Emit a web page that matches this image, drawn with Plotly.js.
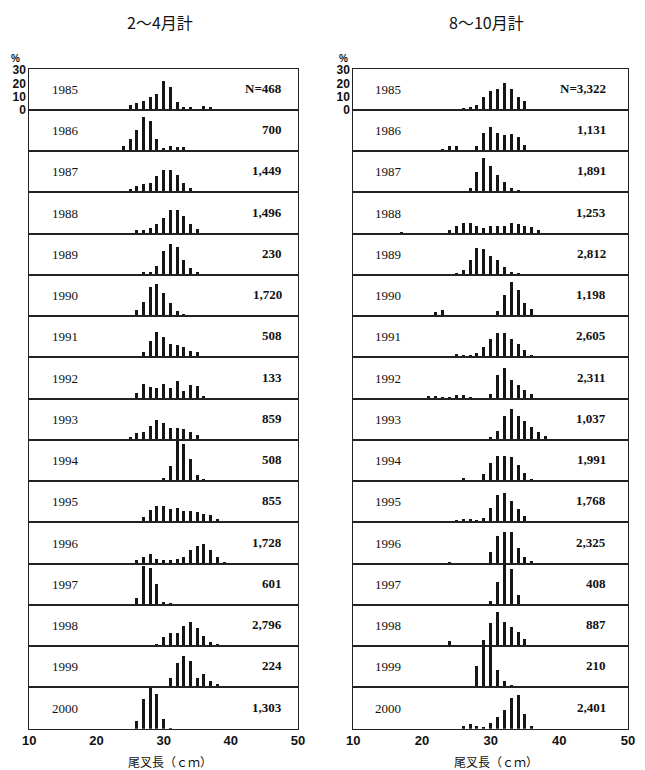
<!DOCTYPE html>
<html><head><meta charset="utf-8">
<script src="https://cdn.plot.ly/plotly-3.0.1.min.js"></script>
<style>html,body{margin:0;padding:0;background:#fff;} #chart{width:645px;height:770px;}</style>
</head><body><div id="chart"></div>
<script>
// fork length classes (cm)
const lengthCm = [17,18,19,20,21,22,23,24,25,26,27,28,29,30,31,32,33,34,35,36,37,38,39,40];
const years = ['1985','1986','1987','1988','1989','1990','1991','1992','1993','1994','1995','1996','1997','1998','1999','2000'];
const springN = ['N=468','700','1,449','1,496','230','1,720','508','133','859','508','855','1,728','601','2,796','224','1,303'];
const autumnN = ['N=3,322','1,131','1,891','1,253','2,812','1,198','2,605','2,311','1,037','1,991','1,768','2,325','408','887','210','2,401'];

// Feb-Apr (%), per length class 17..40 cm
const spring1985 = [0,0,0,0,0,0,0,0,4,5,7,9.5,12,22,17,6,2,2,1,3,2,1,0.5,0];
const spring1986 = [0,0,0,0,0,0,0,4,9.5,16,26,22.5,9.5,2.5,4,3.5,3,0,0,0,0,0,0,0];
const spring1987 = [0,0,0,0,0,0,0,0.5,2.5,5,6,7,12.5,17,17,13,7,3,0.5,0,0,0,0,0];
const spring1988 = [0,0,0,0,0,0,0,0,0,2.5,3,4,7,12,17.5,18,13,7,3.5,0,0,0,0,0];
const spring1989 = [0,0,0,0,0,0,0,0,0,1,2,2,7,18,23,21,11,5,2.5,0,0,0,0,0];
const spring1990 = [0,0,0,0,0,0,0,0,0,4.5,11,22,24,17.5,10,4,2,1,0,0,0,0,0,0];
const spring1991 = [0,0,0,0,0,0,0,0,0,0.5,4,12,19.5,15,10,9.5,8,5,4,1,0,0,0,0];
const spring1992 = [0,0,0,0,0,0,0,0,0,4,11,9,8,11,8,13,6,10,9.5,2,0,0,0,0];
const spring1993 = [0,0,0,0,0,0,0,0,2,5,6,10.5,15,13,9,9,8,6,4,0.5,0,0,0,0];
const spring1994 = [0,0,0,0,0,0,0,0,0,0,0,0,0,2.5,11.5,30,28,17,5,2,0.5,0,0,0];
const spring1995 = [0,0,0,0,0,0,0,0,0,0,4,9.5,12,12.5,10,11,8.7,8.7,8.2,6.2,5.5,2.5,0,0];
const spring1996 = [0,0,0,0,0,0,0,0,0.5,2.5,5,7.5,3.75,3,3,3.75,5,10.5,13,15,10,5,1.25,0];
const spring1997 = [0,0,0,0,0,0,0,0,0,5,29,28,16,2,1.2,1,1,0.8,0.5,0,0,0,0,0];
const spring1998 = [0,0,0,0,0,0,0,0,0,0,0,0,2,7,10,10,15,18,14,8,3,2,0.5,0];
const spring1999 = [0,0,0,0,0,0,0,0,0,0,0,0,0,0.5,7,18.5,24,20,7,10,5,2.5,1,0];
const spring2000 = [0,0,0,0,0,0,0,0,0,6,22,31,26,7.5,0.5,0,0,0,0,0,0,0,0,0];

// Aug-Oct (%), per length class 17..40 cm
const autumn1985 = [0,0,0,0,0,0.3,0.3,0.3,0.5,1.5,2,4,9.5,14,16,20.5,16,10,7,0.5,0,0,0,0];
const autumn1986 = [0,0,0,0,0,0,1.5,4,4,0,0,4,14,18,14,12.5,13,11,5,1,0,0,0,0];
const autumn1987 = [0,0,0,0,0,0,0,0,0,0,3,15,26,20,13,8,3,1.5,0,0,0,0,0,0];
const autumn1988 = [1,0.75,0,0,0.75,0,0,3,5.5,8,8,6,4.5,6,6,5.5,8,7.5,5.5,5,2.5,0,0,0];
const autumn1989 = [0,0,0,0,0,0,0,0,1.75,3.75,11,20,19.5,14,11,6,2.5,1.25,0,0,0,0,0,0];
const autumn1990 = [0,0,0,0,1.25,3.25,5,1.25,0,0,0,0,0,0,3.75,16,25.5,19.5,10,5.5,1.25,0,0,0];
const autumn1991 = [0,0,0,0,0,0,0,1.25,2.5,1.75,2,3.25,8,13.75,18.25,18.75,13.75,10,5.75,1.75,0,0,0,0];
const autumn1992 = [0,0,0,0,1.75,1.75,1.25,1.25,2.5,3,1.5,0,0,3.75,18,23,13.7,10,6.7,3.75,0,0,0,0];
const autumn1993 = [0,0,0,0,0,0,0,0,0,0,0,0,0,2,6.5,18,23,18,14.5,10,5.75,2.75,0,0];
const autumn1994 = [0,0,0,0,0,0,0,0,0.75,2.5,1.25,1.25,5.5,13.75,18.75,18.75,18.25,12.5,6.25,2,0,0,0,0];
const autumn1995 = [0,0,0,0,0,0,0,0.75,2,2.5,2.5,2,3,10.5,21,22.5,16,10,5,0.5,0,0,0,0];
const autumn1996 = [0,0,0,0,0,0,0,1,0,0,0,0,0,8.5,21,24,23.5,11.75,5,1.75,0,0,0,0];
const autumn1997 = [0,0,0,0,0,0,0,0,0,0,0,0,0,2.75,17,31,27,7.5,0.75,0,0,0,0,0];
const autumn1998 = [0,0,0,0,0,0,0,4,0,0,0,0,4.5,17.5,25.75,18.25,14.5,10.75,5.75,1.25,0,0,0,0];
const autumn1999 = [0,0,0,0,0,0,0,0,0,0,0,15.75,31,31,12.75,5,1.5,0,0,0,0,0,0,0];
const autumn2000 = [0,0,0,0,0,0,0,0,0,1.75,3.25,2,1.25,4.25,8.75,14.25,23.25,25,11.25,1.75,0,0,0,0];

const springSeries = [spring1985,spring1986,spring1987,spring1988,spring1989,spring1990,spring1991,spring1992,
  spring1993,spring1994,spring1995,spring1996,spring1997,spring1998,spring1999,spring2000];
const autumnSeries = [autumn1985,autumn1986,autumn1987,autumn1988,autumn1989,autumn1990,autumn1991,autumn1992,
  autumn1993,autumn1994,autumn1995,autumn1996,autumn1997,autumn1998,autumn1999,autumn2000];

const W = 645, H = 770;
const px = x => x / W, py = y => 1 - y / H;
const TOP = 68.7, PH = 41.25;
const serif = 'Liberation Serif, Times New Roman, serif';
const sans = 'Liberation Sans, Arial, sans-serif';
const cjk = 'Noto Sans CJK JP, sans-serif';

const cols = [
  {x0: 29.3, x1: 298, series: springSeries, N: springN, yearX: 50, nX: 284, title: '2～4月計', titleX: 160, xtitleX: 170, pctX: 15},
  {x0: 353.3, x1: 628, series: autumnSeries, N: autumnN, yearX: 373, nX: 608, title: '8～10月計', titleX: 486, xtitleX: 496, pctX: 343}
];

const traces = [];
const layout = {
  width: W, height: H,
  margin: {l: 0, r: 0, t: 0, b: 0},
  paper_bgcolor: '#fff', plot_bgcolor: '#fff',
  showlegend: false, bargap: 0,
  annotations: []
};

cols.forEach((c, ci) => {
  c.series.forEach((vals, i) => {
    const n = ci * 16 + i + 1;
    const xa = 'xaxis' + (n === 1 ? '' : n), ya = 'yaxis' + (n === 1 ? '' : n);
    const xr = 'x' + (n === 1 ? '' : n), yr = 'y' + (n === 1 ? '' : n);
    traces.push({
      type: 'bar', x: lengthCm, y: vals, xaxis: xr, yaxis: yr,
      width: 0.44, marker: {color: '#161616', line: {width: 0}},
      hoverinfo: 'skip'
    });
    const top = TOP + i * PH, bot = TOP + (i + 1) * PH;
    layout[xa] = {
      domain: [px(c.x0), px(c.x1)], range: [10, 50], anchor: yr,
      showgrid: false, zeroline: false, showline: true, mirror: true,
      linecolor: '#222', linewidth: 1, ticks: '',
      tickvals: [10, 20, 30, 40, 50],
      showticklabels: i === 15,
      tickfont: {family: sans, size: 13, color: '#111', weight: 'bold'}
    };
    layout[ya] = {
      domain: [py(bot), py(top)], range: [0, 31], anchor: xr,
      showgrid: false, zeroline: false, showline: true, mirror: true,
      linecolor: '#222', linewidth: 1, ticks: '',
      tickvals: [0, 10, 20, 30],
      showticklabels: i === 0,
      tickfont: {family: sans, size: 12, color: '#111', weight: 'bold'}
    };
    const mid = (top + bot) / 2;
    layout.annotations.push({
      xref: 'paper', yref: 'paper', x: px(c.yearX), y: py(mid), xanchor: 'left', yanchor: 'middle',
      text: years[i], showarrow: false, font: {family: serif, size: 13, color: '#111'}
    });
    layout.annotations.push({
      xref: 'paper', yref: 'paper', x: px(c.nX), y: py(mid - 1), xanchor: 'right', yanchor: 'middle',
      text: c.N[i], showarrow: false, font: {family: serif, size: 13, color: '#111', weight: 'bold'}
    });
  });
  layout.annotations.push({
    xref: 'paper', yref: 'paper', x: px(c.titleX), y: py(22), xanchor: 'center', yanchor: 'middle',
    text: c.title, showarrow: false, font: {family: cjk, size: 16, color: '#111'}
  });
  layout.annotations.push({
    xref: 'paper', yref: 'paper', x: px(c.xtitleX), y: py(761), xanchor: 'center', yanchor: 'middle',
    text: '尾叉長（ｃｍ）', showarrow: false, font: {family: cjk, size: 12, color: '#111'}
  });
  layout.annotations.push({
    xref: 'paper', yref: 'paper', x: px(c.pctX), y: py(58), xanchor: 'center', yanchor: 'middle',
    text: '%', showarrow: false, font: {family: sans, size: 10, color: '#111', weight: 'bold'}
  });
});

Plotly.newPlot('chart', traces, layout, {displayModeBar: false, staticPlot: true});
</script>
</body></html>
